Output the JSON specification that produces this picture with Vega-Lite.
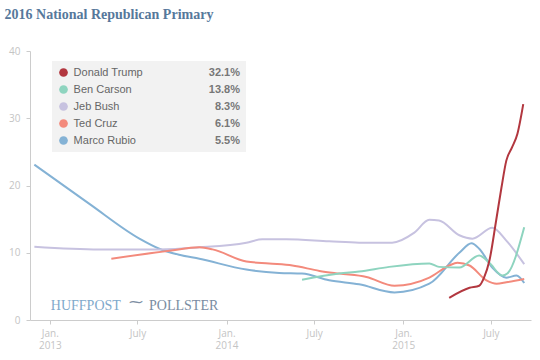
{
  "$schema": "https://vega.github.io/schema/vega-lite/v6.json",
  "width": 501,
  "height": 269,
  "padding": {"top": 8, "left": 4, "right": 4, "bottom": 4},
  "background": "white",
  "title": {"text": "2016 National Republican Primary", "anchor": "start", "frame": "bounds", "font": "Liberation Serif", "fontSize": 14, "fontWeight": "bold", "color": "#56789b", "offset": 24, "dx": -4},
  "config": {"view": {"stroke": null}},
  "datasets": {
    "polls": [
      {"candidate": "Marco Rubio", "date": "2012-11-30", "pct": 23.1},
      {"candidate": "Marco Rubio", "date": "2013-03-23", "pct": 17.3},
      {"candidate": "Marco Rubio", "date": "2013-07-05", "pct": 12.1},
      {"candidate": "Marco Rubio", "date": "2013-08-15", "pct": 10.6},
      {"candidate": "Marco Rubio", "date": "2013-09-25", "pct": 9.7},
      {"candidate": "Marco Rubio", "date": "2013-11-06", "pct": 9.1},
      {"candidate": "Marco Rubio", "date": "2014-02-11", "pct": 7.5},
      {"candidate": "Marco Rubio", "date": "2014-04-20", "pct": 7.0},
      {"candidate": "Marco Rubio", "date": "2014-06-06", "pct": 6.9},
      {"candidate": "Marco Rubio", "date": "2014-08-01", "pct": 5.9},
      {"candidate": "Marco Rubio", "date": "2014-10-02", "pct": 5.3},
      {"candidate": "Marco Rubio", "date": "2014-12-14", "pct": 4.1},
      {"candidate": "Marco Rubio", "date": "2015-02-24", "pct": 5.4},
      {"candidate": "Marco Rubio", "date": "2015-04-27", "pct": 10.0},
      {"candidate": "Marco Rubio", "date": "2015-05-22", "pct": 11.4},
      {"candidate": "Marco Rubio", "date": "2015-06-07", "pct": 10.6},
      {"candidate": "Marco Rubio", "date": "2015-07-04", "pct": 7.8},
      {"candidate": "Marco Rubio", "date": "2015-08-02", "pct": 6.3},
      {"candidate": "Marco Rubio", "date": "2015-08-23", "pct": 6.6},
      {"candidate": "Marco Rubio", "date": "2015-09-08", "pct": 5.5},
      {"candidate": "Jeb Bush", "date": "2012-11-30", "pct": 10.9},
      {"candidate": "Jeb Bush", "date": "2013-04-13", "pct": 10.5},
      {"candidate": "Jeb Bush", "date": "2013-08-15", "pct": 10.5},
      {"candidate": "Jeb Bush", "date": "2013-11-06", "pct": 10.8},
      {"candidate": "Jeb Bush", "date": "2014-02-11", "pct": 11.5},
      {"candidate": "Jeb Bush", "date": "2014-03-16", "pct": 12.0},
      {"candidate": "Jeb Bush", "date": "2014-05-04", "pct": 12.0},
      {"candidate": "Jeb Bush", "date": "2014-08-01", "pct": 11.7},
      {"candidate": "Jeb Bush", "date": "2014-10-02", "pct": 11.5},
      {"candidate": "Jeb Bush", "date": "2014-12-09", "pct": 11.5},
      {"candidate": "Jeb Bush", "date": "2015-01-24", "pct": 13.0},
      {"candidate": "Jeb Bush", "date": "2015-02-24", "pct": 14.9},
      {"candidate": "Jeb Bush", "date": "2015-03-16", "pct": 14.8},
      {"candidate": "Jeb Bush", "date": "2015-04-27", "pct": 12.6},
      {"candidate": "Jeb Bush", "date": "2015-05-24", "pct": 12.1},
      {"candidate": "Jeb Bush", "date": "2015-07-04", "pct": 13.7},
      {"candidate": "Jeb Bush", "date": "2015-08-02", "pct": 11.8},
      {"candidate": "Jeb Bush", "date": "2015-09-08", "pct": 8.3},
      {"candidate": "Ted Cruz", "date": "2013-05-08", "pct": 9.1},
      {"candidate": "Ted Cruz", "date": "2013-09-05", "pct": 10.3},
      {"candidate": "Ted Cruz", "date": "2013-11-06", "pct": 10.8},
      {"candidate": "Ted Cruz", "date": "2013-12-03", "pct": 10.5},
      {"candidate": "Ted Cruz", "date": "2014-02-11", "pct": 8.7},
      {"candidate": "Ted Cruz", "date": "2014-03-30", "pct": 8.4},
      {"candidate": "Ted Cruz", "date": "2014-05-17", "pct": 8.1},
      {"candidate": "Ted Cruz", "date": "2014-07-12", "pct": 7.3},
      {"candidate": "Ted Cruz", "date": "2014-08-22", "pct": 6.9},
      {"candidate": "Ted Cruz", "date": "2014-10-17", "pct": 6.4},
      {"candidate": "Ted Cruz", "date": "2014-12-14", "pct": 5.1},
      {"candidate": "Ted Cruz", "date": "2015-02-24", "pct": 6.3},
      {"candidate": "Ted Cruz", "date": "2015-04-06", "pct": 8.1},
      {"candidate": "Ted Cruz", "date": "2015-04-23", "pct": 8.5},
      {"candidate": "Ted Cruz", "date": "2015-05-18", "pct": 8.1},
      {"candidate": "Ted Cruz", "date": "2015-06-22", "pct": 5.9},
      {"candidate": "Ted Cruz", "date": "2015-07-13", "pct": 5.4},
      {"candidate": "Ted Cruz", "date": "2015-08-02", "pct": 5.6},
      {"candidate": "Ted Cruz", "date": "2015-09-08", "pct": 6.1},
      {"candidate": "Ben Carson", "date": "2014-06-06", "pct": 6.0},
      {"candidate": "Ben Carson", "date": "2014-08-22", "pct": 6.9},
      {"candidate": "Ben Carson", "date": "2014-10-02", "pct": 7.2},
      {"candidate": "Ben Carson", "date": "2014-12-03", "pct": 7.9},
      {"candidate": "Ben Carson", "date": "2015-02-24", "pct": 8.4},
      {"candidate": "Ben Carson", "date": "2015-03-16", "pct": 7.9},
      {"candidate": "Ben Carson", "date": "2015-04-27", "pct": 7.8},
      {"candidate": "Ben Carson", "date": "2015-06-07", "pct": 9.6},
      {"candidate": "Ben Carson", "date": "2015-06-28", "pct": 8.5},
      {"candidate": "Ben Carson", "date": "2015-07-25", "pct": 6.6},
      {"candidate": "Ben Carson", "date": "2015-08-04", "pct": 6.9},
      {"candidate": "Ben Carson", "date": "2015-09-08", "pct": 13.8},
      {"candidate": "Donald Trump", "date": "2015-04-06", "pct": 3.3},
      {"candidate": "Donald Trump", "date": "2015-05-18", "pct": 4.8},
      {"candidate": "Donald Trump", "date": "2015-06-07", "pct": 5.1},
      {"candidate": "Donald Trump", "date": "2015-06-17", "pct": 6.3},
      {"candidate": "Donald Trump", "date": "2015-06-28", "pct": 8.8},
      {"candidate": "Donald Trump", "date": "2015-07-12", "pct": 14.8},
      {"candidate": "Donald Trump", "date": "2015-07-23", "pct": 19.7},
      {"candidate": "Donald Trump", "date": "2015-08-02", "pct": 23.7},
      {"candidate": "Donald Trump", "date": "2015-08-14", "pct": 25.7},
      {"candidate": "Donald Trump", "date": "2015-08-25", "pct": 27.7},
      {"candidate": "Donald Trump", "date": "2015-09-06", "pct": 32.1}
    ],
    "names": [
      {"name": "Donald Trump"},
      {"name": "Ben Carson"},
      {"name": "Jeb Bush"},
      {"name": "Ted Cruz"},
      {"name": "Marco Rubio"}
    ]
  },
  "layer": [
    {
      "data": {"name": "polls"},
      "mark": {"type": "line", "strokeWidth": 2, "interpolate": "monotone"},
      "encoding": {
        "x": {
          "field": "date", "type": "temporal",
          "scale": {"type": "utc", "domain": [{"year": 2012, "month": 11, "date": 21, "utc": true}, {"year": 2015, "month": 9, "date": 22, "utc": true}]},
          "axis": {
            "title": null, "grid": false,
            "values": [
              {"year": 2013, "month": 1, "date": 1, "utc": true},
              {"year": 2013, "month": 7, "date": 1, "utc": true},
              {"year": 2014, "month": 1, "date": 1, "utc": true},
              {"year": 2014, "month": 7, "date": 1, "utc": true},
              {"year": 2015, "month": 1, "date": 1, "utc": true},
              {"year": 2015, "month": 7, "date": 1, "utc": true}
            ],
            "labelExpr": "utcmonth(datum.value) == 0 ? ['Jan.', utcFormat(datum.value, '%Y')] : 'July'",
            "domainColor": "#cccccc", "tickColor": "#cccccc", "tickSize": 4,
            "labelColor": "#c4c4c4", "labelFont": "Open Sans", "labelFontSize": 10,
            "labelPadding": 4, "labelLineHeight": 12, "labelFlush": false, "labelOverlap": false
          }
        },
        "y": {
          "field": "pct", "type": "quantitative",
          "scale": {"domain": [0, 40], "nice": false},
          "axis": {
            "title": null, "grid": false, "values": [0, 10, 20, 30, 40],
            "domainColor": "#cccccc", "tickColor": "#cccccc", "tickSize": 4,
            "labelColor": "#c4c4c4", "labelFont": "Open Sans", "labelFontSize": 10, "labelPadding": 6
          }
        },
        "color": {
          "field": "candidate", "type": "nominal",
          "scale": {
            "domain": ["Donald Trump", "Ben Carson", "Jeb Bush", "Ted Cruz", "Marco Rubio"],
            "range": ["#b2373f", "#8ed4bf", "#c7c2e0", "#f38a7c", "#84b2d5"]
          },
          "legend": {
            "orient": "none", "legendX": 22, "legendY": 10, "title": null,
            "padding": 6, "fillColor": "#f2f2f2", "cornerRadius": 0,
            "symbolType": "circle", "symbolSize": 75, "symbolStrokeWidth": 0,
            "rowPadding": 5, "labelAlign": "right", "labelOffset": 171,
            "labelFont": "Liberation Sans", "labelFontSize": 11, "labelFontWeight": "bold", "labelColor": "#777777",
            "labelExpr": "datum.label == 'Donald Trump' ? '32.1%' : datum.label == 'Ben Carson' ? '13.8%' : datum.label == 'Jeb Bush' ? '8.3%' : datum.label == 'Ted Cruz' ? '6.1%' : '5.5%'",
            "encode": {"symbols": {"update": {"fill": {"scale": "color", "field": "value"}, "opacity": {"value": 1}}}}
          }
        }
      }
    },
    {
      "data": {"name": "names"},
      "mark": {"type": "point", "opacity": 0},
      "encoding": {
        "shape": {
          "field": "name", "type": "nominal", "sort": null,
          "scale": {"range": ["circle", "circle", "circle", "circle", "circle"]},
          "legend": {
            "orient": "none", "legendX": 22, "legendY": 10, "title": null,
            "padding": 6, "symbolSize": 75, "symbolOpacity": 0, "symbolStrokeWidth": 0,
            "rowPadding": 5, "labelOffset": 4.6,
            "labelFont": "Liberation Sans", "labelFontSize": 11, "labelColor": "#666666"
          }
        }
      }
    },
    {
      "data": {"values": [{}]},
      "mark": {"type": "text", "align": "left", "baseline": "alphabetic", "font": "Liberation Serif", "fontSize": 14, "color": "#80a9cb"},
      "encoding": {
        "x": {"datum": {"year": 2013, "month": 1, "date": 3, "utc": true}, "type": "temporal"},
        "y": {"datum": 1.5, "type": "quantitative"},
        "text": {"value": "HUFFPOST"}
      }
    },
    {
      "data": {"values": [{}]},
      "mark": {"type": "text", "align": "center", "baseline": "alphabetic", "font": "DejaVu Sans", "fontSize": 14, "color": "#7d8ea3"},
      "encoding": {
        "x": {"datum": {"year": 2013, "month": 6, "date": 28, "utc": true}, "type": "temporal"},
        "y": {"datum": 2.0, "type": "quantitative"},
        "text": {"value": "⁓"}
      }
    },
    {
      "data": {"values": [{}]},
      "mark": {"type": "text", "align": "left", "baseline": "alphabetic", "font": "Liberation Serif", "fontSize": 14, "color": "#7a8ca2"},
      "encoding": {
        "x": {"datum": {"year": 2013, "month": 7, "date": 25, "utc": true}, "type": "temporal"},
        "y": {"datum": 1.5, "type": "quantitative"},
        "text": {"value": "POLLSTER"}
      }
    }
  ]
}
